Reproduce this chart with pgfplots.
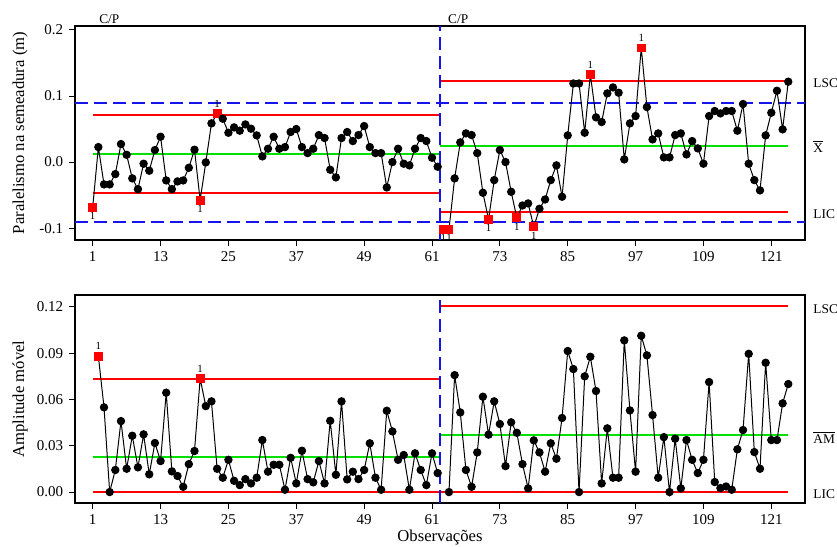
\documentclass[border=0pt]{standalone}
\usepackage{fontspec}
\setmainfont{Liberation Serif}
\usepackage{pgfplots}
\usepackage{pgfplotstable}
\pgfplotsset{compat=1.18}
\definecolor{limgreen}{RGB}{0,225,0}
\definecolor{specblue}{RGB}{20,20,235}

% Individual values, stage 1
\pgfplotstableread{
n y c
1 -0.0687 b
2 0.0227 a
3 -0.0338 a
4 -0.0338 a
5 -0.0182 a
6 0.0273 a
7 0.0110 a
8 -0.0247 a
9 -0.0410 a
10 -0.0025 a
11 -0.0131 a
12 0.0182 a
13 0.0384 a
14 -0.0278 a
15 -0.0410 a
16 -0.0293 a
17 -0.0278 a
18 -0.0086 a
19 0.0187 a
20 -0.0576 b
21 -0.0005 a
22 0.0586 a
23 0.0732 b
24 0.0657 a
25 0.0444 a
26 0.0525 a
27 0.0475 a
28 0.0570 a
29 0.0505 a
30 0.0404 a
31 0.0086 a
32 0.0202 a
33 0.0384 a
34 0.0202 a
35 0.0227 a
36 0.0455 a
37 0.0500 a
38 0.0227 a
39 0.0136 a
40 0.0202 a
41 0.0409 a
42 0.0364 a
43 -0.0116 a
44 -0.0232 a
45 0.0364 a
46 0.0455 a
47 0.0318 a
48 0.0409 a
49 0.0545 a
50 0.0227 a
51 0.0136 a
52 0.0136 a
53 -0.0384 a
54 0.0000 a
55 0.0202 a
56 -0.0025 a
57 -0.0050 a
58 0.0202 a
59 0.0364 a
60 0.0318 a
61 0.0066 a
62 -0.0071 a
}\topA

% Individual values, stage 2
\pgfplotstableread{
n y c
63 -0.1020 b
64 -0.1020 b
65 -0.0247 a
66 0.0298 a
67 0.0434 a
68 0.0409 a
69 0.0136 a
70 -0.0465 a
71 -0.0869 b
72 -0.0273 a
73 0.0182 a
74 0.0000 a
75 -0.0450 a
76 -0.0843 b
77 -0.0657 a
78 -0.0626 a
79 -0.0980 b
80 -0.0707 a
81 -0.0566 a
82 -0.0273 a
83 -0.0050 a
84 -0.0525 a
85 0.0404 a
86 0.1190 a
87 0.1190 a
88 0.0444 a
89 0.1328 b
90 0.0677 a
91 0.0606 a
92 0.1040 a
93 0.1130 a
94 0.1050 a
95 0.0040 a
96 0.0586 a
97 0.0697 a
98 0.1727 b
99 0.0833 a
100 0.0343 a
101 0.0434 a
102 0.0071 a
103 0.0071 a
104 0.0409 a
105 0.0434 a
106 0.0116 a
107 0.0318 a
108 0.0207 a
109 -0.0025 a
110 0.0697 a
111 0.0773 a
112 0.0737 a
113 0.0773 a
114 0.0773 a
115 0.0475 a
116 0.0879 a
117 -0.0025 a
118 -0.0273 a
119 -0.0429 a
120 0.0404 a
121 0.0747 a
122 0.1080 a
123 0.0495 a
124 0.1217 a
}\topB

\pgfplotstableread{
n y
23 0.0732
89 0.1328
98 0.1727
}\topUp

\pgfplotstableread{
n y
1 -0.0687
20 -0.0576
63 -0.1020
64 -0.1020
71 -0.0869
76 -0.0843
79 -0.0980
}\topDn

% Moving ranges, stage 1
\pgfplotstableread{
n y c
2 0.0881 b
3 0.0549 a
4 0.0000 a
5 0.0143 a
6 0.0460 a
7 0.0151 a
8 0.0365 a
9 0.0160 a
10 0.0374 a
11 0.0115 a
12 0.0318 a
13 0.0201 a
14 0.0644 a
15 0.0134 a
16 0.0104 a
17 0.0034 a
18 0.0181 a
19 0.0266 a
20 0.0735 b
21 0.0557 a
22 0.0588 a
23 0.0151 a
24 0.0093 a
25 0.0209 a
26 0.0073 a
27 0.0045 a
28 0.0084 a
29 0.0056 a
30 0.0093 a
31 0.0337 a
32 0.0132 a
33 0.0177 a
34 0.0177 a
35 0.0015 a
36 0.0222 a
37 0.0056 a
38 0.0268 a
39 0.0084 a
40 0.0063 a
41 0.0201 a
42 0.0056 a
43 0.0462 a
44 0.0112 a
45 0.0588 a
46 0.0082 a
47 0.0132 a
48 0.0084 a
49 0.0143 a
50 0.0316 a
51 0.0093 a
52 0.0015 a
53 0.0527 a
54 0.0393 a
55 0.0209 a
56 0.0240 a
57 0.0015 a
58 0.0251 a
59 0.0143 a
60 0.0045 a
61 0.0251 a
62 0.0123 a
}\botA

% Moving ranges, stage 2
\pgfplotstableread{
n y c
64 0.0000 a
65 0.0758 a
66 0.0516 a
67 0.0143 a
68 0.0034 a
69 0.0257 a
70 0.0618 a
71 0.0372 a
72 0.0588 a
73 0.0441 a
74 0.0168 a
75 0.0452 a
76 0.0384 a
77 0.0181 a
78 0.0024 a
79 0.0335 a
80 0.0257 a
81 0.0132 a
82 0.0316 a
83 0.0216 a
84 0.0480 a
85 0.0914 a
86 0.0797 a
87 0.0000 a
88 0.0750 a
89 0.0877 a
90 0.0655 a
91 0.0056 a
92 0.0413 a
93 0.0093 a
94 0.0093 a
95 0.0983 a
96 0.0529 a
97 0.0132 a
98 0.1013 a
99 0.0886 a
100 0.0499 a
101 0.0093 a
102 0.0356 a
103 0.0000 a
104 0.0346 a
105 0.0024 a
106 0.0337 a
107 0.0209 a
108 0.0123 a
109 0.0209 a
110 0.0713 a
111 0.0065 a
112 0.0026 a
113 0.0036 a
114 0.0015 a
115 0.0277 a
116 0.0402 a
117 0.0896 a
118 0.0259 a
119 0.0151 a
120 0.0838 a
121 0.0337 a
122 0.0337 a
123 0.0575 a
124 0.0700 a
}\botB

\pgfplotstableread{
n y
2 0.0881
20 0.0735
}\botUp

\tikzset{rl/.style={anchor=west, font=\footnotesize, inner sep=0pt, text=black}}

\begin{document}
\begin{tikzpicture}
\useasboundingbox (0,0) rectangle (502.2pt,-327.6pt);
\pgfplotsset{
  cc/.style={scale only axis, width=438pt, xmin=-2.13, xmax=126.96,
    xtick={1,13,25,37,49,61,73,85,97,109,121},
    tick align=outside, xtick pos=left, ytick pos=left,
    major tick length=3.6pt,
    axis line style={line width=0.8pt, black},
    tick style={line width=0.6pt, black},
    ticklabel style={font=\fontsize{9}{11}\selectfont, text=black},
    /pgf/number format/assume math mode=true,
    clip=false,
    label style={font=\fontsize{10}{12}\selectfont},
    ylabel style={anchor=center},
  },
  ser/.style={black, line width=0.6pt, scatter, mark size=2.2pt,
    point meta=explicit symbolic,
    scatter/classes={a={mark=*, draw=black, fill=black},
                     b={mark=square*, draw=red, fill=red, mark size=2.35pt}}},
  lab/.style={draw=none, mark=none, nodes near coords={1},
    every node near coord/.append style={font=\fontsize{6.5}{8}\selectfont, text=black, inner sep=0pt}},
  dsh/.style={specblue, line width=1.2pt, dash pattern=on 7.8pt off 3.6pt},
  lim/.style={red, line width=1.2pt},
  ctr/.style={limgreen, line width=1.2pt},
}

% ---------- Individual values ----------
\begin{axis}[cc, at={(45pt,-15.6pt)}, anchor=north west, height=128.4pt,
  ymin=-0.118, ymax=0.206, ytick={-0.1,0,0.1,0.2},
  yticklabel style={/pgf/number format/fixed, /pgf/number format/fixed zerofill, /pgf/number format/precision=1},
  ylabel={Paralelismo na semeadura (m)},
  ylabel style={at={(axis description cs:-0.0753,0.5)}},
]
\addplot[dsh] coordinates {(-2.13,0.09) (126.96,0.09)};
\addplot[dsh] coordinates {(-2.13,-0.09) (126.96,-0.09)};
\addplot[lim] coordinates {(1,0.071) (62.5,0.071)};
\addplot[lim] coordinates {(1,-0.047) (62.5,-0.047)};
\addplot[ctr] coordinates {(1,0.0125) (62.5,0.0125)};
\addplot[lim] coordinates {(62.5,0.123) (124,0.123)};
\addplot[lim] coordinates {(62.5,-0.0755) (124,-0.0755)};
\addplot[ctr] coordinates {(62.5,0.024) (124,0.024)};
\addplot[dsh] coordinates {(62.5,-0.118) (62.5,0.206)};
\addplot[ser] table[x=n, y=y, meta=c] {\topA};
\addplot[ser] table[x=n, y=y, meta=c] {\topB};
\addplot[lab, every node near coord/.append style={anchor=south, yshift=3.6pt}] table[x=n, y=y] {\topUp};
\addplot[lab, every node near coord/.append style={anchor=north, yshift=-3pt}] table[x=n, y=y] {\topDn};
\node[font=\footnotesize, anchor=south west, inner sep=0pt, yshift=1.3pt] at (axis cs:2.1,0.206) {C/P};
\node[font=\footnotesize, anchor=south west, inner sep=0pt, yshift=1.3pt] at (axis cs:63.8,0.206) {C/P};
\node[rl, yshift=-1.4pt] at (axis cs:128.4,0.123) {LSC};
\node[rl] at (axis cs:128.4,0.024) {$\overline{\hbox{X}}$};
\node[rl, yshift=-1.4pt] at (axis cs:128.4,-0.0755) {LIC};
\end{axis}

% ---------- Moving range ----------
\begin{axis}[cc, at={(45pt,-177pt)}, anchor=north west, height=124.8pt,
  ymin=-0.0071, ymax=0.1277, ytick={0,0.03,0.06,0.09,0.12},
  yticklabel style={/pgf/number format/fixed, /pgf/number format/fixed zerofill, /pgf/number format/precision=2},
  ylabel={Amplitude móvel},
  ylabel style={at={(axis description cs:-0.0753,0.5)}},
  xlabel={Observações},
  xlabel style={at={(axis description cs:0.5,-0.168)}, anchor=center},
]
\addplot[lim] coordinates {(1,0.0735) (62.5,0.0735)};
\addplot[lim] coordinates {(1,0) (62.5,0)};
\addplot[ctr] coordinates {(1,0.0225) (62.5,0.0225)};
\addplot[lim] coordinates {(62.5,0.1207) (124,0.1207)};
\addplot[lim] coordinates {(62.5,0) (124,0)};
\addplot[ctr] coordinates {(62.5,0.0369) (124,0.0369)};
\addplot[dsh] coordinates {(62.5,-0.0071) (62.5,0.1277)};
\addplot[ser] table[x=n, y=y, meta=c] {\botA};
\addplot[ser] table[x=n, y=y, meta=c] {\botB};
\addplot[lab, every node near coord/.append style={anchor=south, yshift=3.5pt}] table[x=n, y=y] {\botUp};
\node[rl, yshift=-1.8pt] at (axis cs:128.4,0.1207) {LSC};
\node[rl, yshift=-1.5pt] at (axis cs:128.4,0.0369) {$\overline{\hbox{AM}}$};
\node[rl, yshift=-1.5pt] at (axis cs:128.4,0) {LIC};
\end{axis}
\end{tikzpicture}
\end{document}
